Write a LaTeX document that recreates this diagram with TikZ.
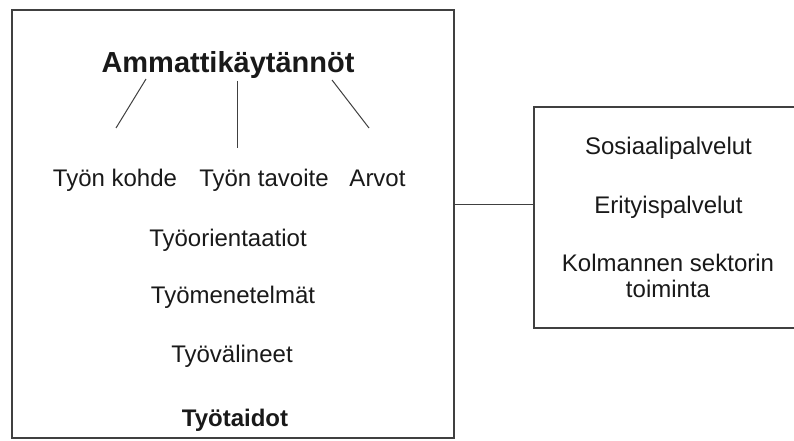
\documentclass[tikz,border=0pt]{standalone}
\usepackage{fontspec}
\setmainfont{Liberation Sans}

\begin{document}
\begin{tikzpicture}[x=1pt, y=-1pt,
		box/.style={draw=black!75, line width=1.4pt, inner sep=0pt},
		lbl/.style={anchor=base, inner sep=0pt, font=\fontsize{24}{26}\selectfont, text=black!90},
		head/.style={anchor=base, inner sep=0pt, font=\fontsize{29}{32}\selectfont\bfseries, text=black!90},
		link/.style={draw=black!75, line width=1pt}]
			%%%%% START %%%%%
			
			\useasboundingbox[fill=white] (0, 0) rectangle (794, 441);
			\clip (0, 0) rectangle (794, 441);
			
			\node[box, minimum width=442, minimum height=428] (kaytannot) at (233, 224) {};
			% right edge runs past the page
			\node[box, minimum width=300, minimum height=221] (sektorit) at (684, 217.5) {};
			
			\node[head] (ammatti) at (228, 73) {Ammattikäytännöt};
			
			\node[lbl] (kohde) at (115, 186) {Työn kohde};
			\node[lbl] (tavoite) at (264, 186) {Työn tavoite};
			\node[lbl] (arvot) at (377.5, 186) {Arvot};
			
			\node[lbl] (orient) at (228, 246) {Työorientaatiot};
			\node[lbl] (menet) at (233, 303) {Työmenetelmät};
			\node[lbl] (valin) at (232, 362) {Työvälineet};
			\node[head, font=\fontsize{24}{26}\selectfont\bfseries] (taidot) at (235, 426) {Työtaidot};
			
			\node[lbl] (sosiaali) at (668.5, 154) {Sosiaalipalvelut};
			\node[lbl] (erityis) at (668.5, 213) {Erityispalvelut};
			\node[lbl] (kolmas) at (668, 271) {Kolmannen sektorin};
			\node[lbl] (toiminta) at (668, 297) {toiminta};
			
			% branches under the heading
			\coordinate (a1) at (146, 79);
			\coordinate (a2) at (116, 128);
			\coordinate (b1) at (237, 81);
			\coordinate (b2) at (237, 148);
			\coordinate (c1) at (332, 80);
			\coordinate (c2) at (369, 128);
			\draw[link] (a1) -- (a2);
			\draw[link] (b1) -- (b2);
			\draw[link] (c1) -- (c2);
			
			% join between the boxes
			\coordinate (liitos) at (0, 204);
			\draw[link] (kaytannot.east |- liitos) -- (sektorit.west |- liitos);
			
			%%%%% END %%%%%
		\end{tikzpicture}
\end{document}
